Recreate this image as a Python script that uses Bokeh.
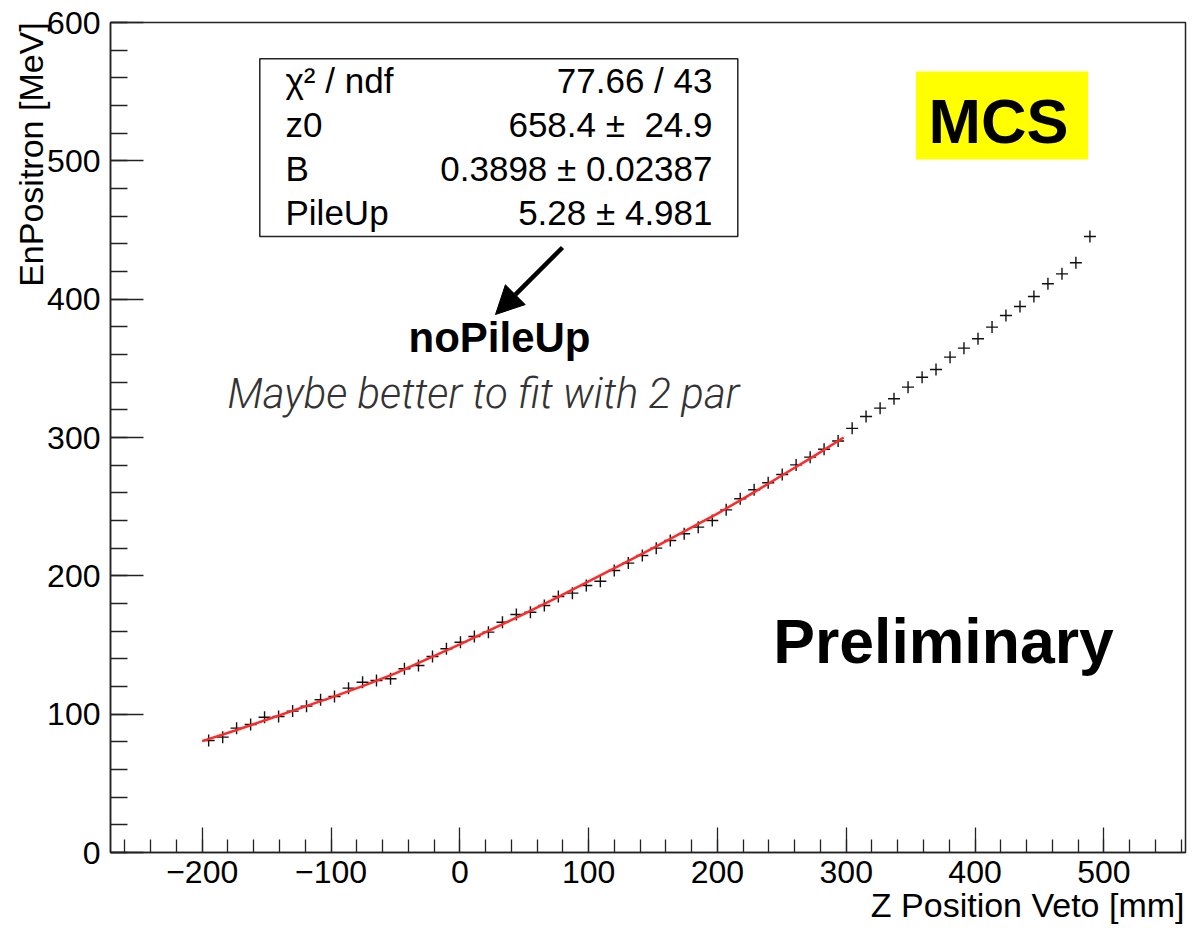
import math
from bokeh.plotting import figure
from bokeh.models import (Range1d, SingleIntervalTicker, Label, BoxAnnotation,
                          Arrow, NormalHead, CustomJSTickFormatter)
from bokeh.embed import file_html
from bokeh.resources import INLINE

# ---- data ----
z_position = [-195.0, -184.1, -173.3, -162.4, -151.6, -140.7, -129.8, -119.0,
              -108.1, -97.3, -86.4, -75.5, -64.7, -53.8, -43.0, -32.1,
              -21.2, -10.4, 0.5, 11.3, 22.2, 33.1, 43.9, 54.8,
              65.6, 76.5, 87.4, 98.2, 109.1, 119.9, 130.8, 141.7,
              152.5, 163.4, 174.2, 185.1, 196.0, 206.8, 217.7, 228.5,
              239.4, 250.3, 261.1, 272.0, 282.8, 293.7, 304.6, 315.4,
              326.3, 337.1, 348.0, 358.9, 369.7, 380.6, 391.4, 402.3,
              413.2, 424.0, 434.9, 445.7, 456.6, 467.5, 478.3, 489.2]
en_positron = [81.0, 83.4, 89.9, 92.5, 97.8, 98.3, 102.2, 105.8,
               110.4, 112.8, 118.8, 123.1, 124.3, 125.6, 132.8, 135.2,
               141.7, 147.3, 152.0, 156.1, 159.3, 166.5, 172.0, 173.7,
               178.6, 185.1, 187.5, 193.0, 196.1, 203.9, 209.2, 214.7,
               220.0, 225.5, 230.4, 235.2, 240.0, 247.7, 255.7, 262.2,
               267.3, 273.2, 280.2, 285.8, 291.5, 297.5, 306.6, 315.2,
               321.2, 328.0, 336.4, 343.6, 349.2, 358.1, 364.6, 371.4,
               379.8, 388.2, 394.7, 401.9, 411.1, 418.3, 426.3, 445.3]
fit_z = [-200, -175, -150, -125, -100, -75, -50, -25, 0, 25, 50,
         75, 100, 125, 150, 175, 200, 225, 250, 275, 298]
fit_en = [80.5, 88.0, 96.0, 104.0, 112.0, 120.5, 129.5, 140.0, 150.5, 161.5, 172.5,
          184.0, 196.0, 208.0, 220.0, 232.5, 245.0, 258.5, 272.5, 286.5, 300.0]

x_title = "Z Position Veto [mm]"
y_title = "EnPositron [MeV]"
stat_names = ["χ² / ndf", "z0", "B", "PileUp"]
stat_values = ["77.66 / 43", "658.4 ±\u00a0 24.9", "0.3898 ± 0.02387", "5.28 ± 4.981"]

X0, X1 = -271.2, 563.4
Y0, Y1 = 0, 600
W, H = 1193, 928
BL, BR, BT, BB = 110, 8, 22, 76
SX = (W - BL - BR) / (X1 - X0)
SY = (H - BT - BB) / (Y1 - Y0)


def px2x(px):
    return X0 + (px - BL) / SX


def py2y(py):
    return Y0 + (H - BB - py) / SY


def base_y(py, size):
    # Label anchors the bottom of its text box; shift so the glyph baseline lands at py
    return py2y(py - 0.36 * size)


FONT = "Liberation Sans"

p = figure(width=W, height=H, x_range=Range1d(X0, X1), y_range=Range1d(Y0, Y1),
           output_backend="svg", toolbar_location=None, title=None,
           min_border_left=BL, min_border_right=BR, min_border_top=BT,
           min_border_bottom=BB)
p.xgrid.visible = False
p.ygrid.visible = False
p.outline_line_color = "#222222"
p.outline_line_width = 1.5
p.background_fill_color = "white"
p.border_fill_color = "white"

for ax in (p.xaxis[0], p.yaxis[0]):
    ax.ticker = SingleIntervalTicker(interval=100, num_minor_ticks=5)
    ax.axis_line_color = "#222222"
    ax.axis_line_width = 1.5
    ax.major_tick_line_color = "#222222"
    ax.minor_tick_line_color = "#222222"
    ax.major_tick_line_width = 1.3
    ax.minor_tick_line_width = 1.3
    ax.major_tick_out = 0
    ax.minor_tick_out = 0
    ax.major_label_text_font = FONT
    ax.major_label_text_font_size = "32px"
    ax.major_label_text_color = "black"
    ax.axis_label_text_font = FONT
    ax.axis_label_text_font_size = "34px"
    ax.axis_label_text_font_style = "normal"
    ax.axis_label_text_color = "black"
    ax.axis_label_align = "end"
    ax.formatter = CustomJSTickFormatter(
        code="return tick < 0 ? '\u2212' + Math.abs(tick) : tick.toFixed(0);")

# the axis title is centred on the axis end, so a run of blank (em/thin) spaces of
# the same width as the words pushes the visible words to end at the axis end
p.xaxis.axis_label = x_title + "\u2003" * 9 + "\u2009" + "\u200a"
p.yaxis.axis_label = y_title + "\u2003" * 7 + "\u2009" * 3 + "\u200a" * 2
p.xaxis.major_tick_in = 25
p.xaxis.minor_tick_in = 13
p.xaxis.major_label_standoff = 8
p.xaxis.axis_label_standoff = 0
p.yaxis.major_tick_in = 33
p.yaxis.minor_tick_in = 17
p.yaxis.major_label_standoff = 10
p.yaxis.axis_label_standoff = -6

p.scatter(z_position, en_positron, marker="cross", size=12,
          line_color="#111111", line_width=1.4)
p.line(fit_z, fit_en, line_color="#ff2a2a", line_width=2.5)

# stats box
p.add_layout(BoxAnnotation(left=px2x(259.3), right=px2x(737.3),
                           top=py2y(58.3), bottom=py2y(236),
                           fill_color="white", fill_alpha=1.0,
                           line_color="#222222", line_alpha=1.0, line_width=1.5))
row_baselines = [93, 137, 180.5, 225]
for name, val, base in zip(stat_names, stat_values, row_baselines):
    p.add_layout(Label(x=px2x(285), y=base_y(base, 35), text=name, text_align="left",
                       text_baseline="alphabetic", text_font=FONT,
                       text_font_size="35px", text_color="black"))
    p.add_layout(Label(x=px2x(712), y=base_y(base, 35), text=val, text_align="right",
                       text_baseline="alphabetic", text_font=FONT,
                       text_font_size="35px", text_color="black"))

# arrow + notes
p.add_layout(Arrow(end=NormalHead(size=28, fill_color="black", line_color="black"),
                   x_start=px2x(562), y_start=py2y(247),
                   x_end=px2x(495), y_end=py2y(314),
                   line_width=4.5, line_color="black"))
p.add_layout(Label(x=px2x(499), y=base_y(352, 42), text="noPileUp", text_align="center",
                   text_baseline="alphabetic", text_font=FONT, text_font_style="bold",
                   text_font_size="42px", text_color="black"))
p.add_layout(Label(x=px2x(483), y=base_y(408, 42), text="Maybe better to fit with 2 par",
                   text_align="center", text_baseline="alphabetic",
                   text_font="Roboto Light", text_font_style="italic",
                   text_font_size="42px", text_color="#333333"))

# MCS tag
p.add_layout(BoxAnnotation(left=px2x(915.5), right=px2x(1087.5),
                           top=py2y(71), bottom=py2y(159),
                           fill_color="#ffff00", fill_alpha=1.0, line_alpha=0))
p.add_layout(Label(x=px2x(998), y=base_y(143, 63), text="MCS", text_align="center",
                   text_baseline="alphabetic", text_font=FONT, text_font_style="bold",
                   text_font_size="63px", text_color="black"))
p.add_layout(Label(x=px2x(943), y=base_y(663, 62.5), text="Preliminary", text_align="center",
                   text_baseline="alphabetic", text_font=FONT, text_font_style="bold",
                   text_font_size="62.5px", text_color="black"))

open("out.html", "w").write(file_html(p, INLINE))
